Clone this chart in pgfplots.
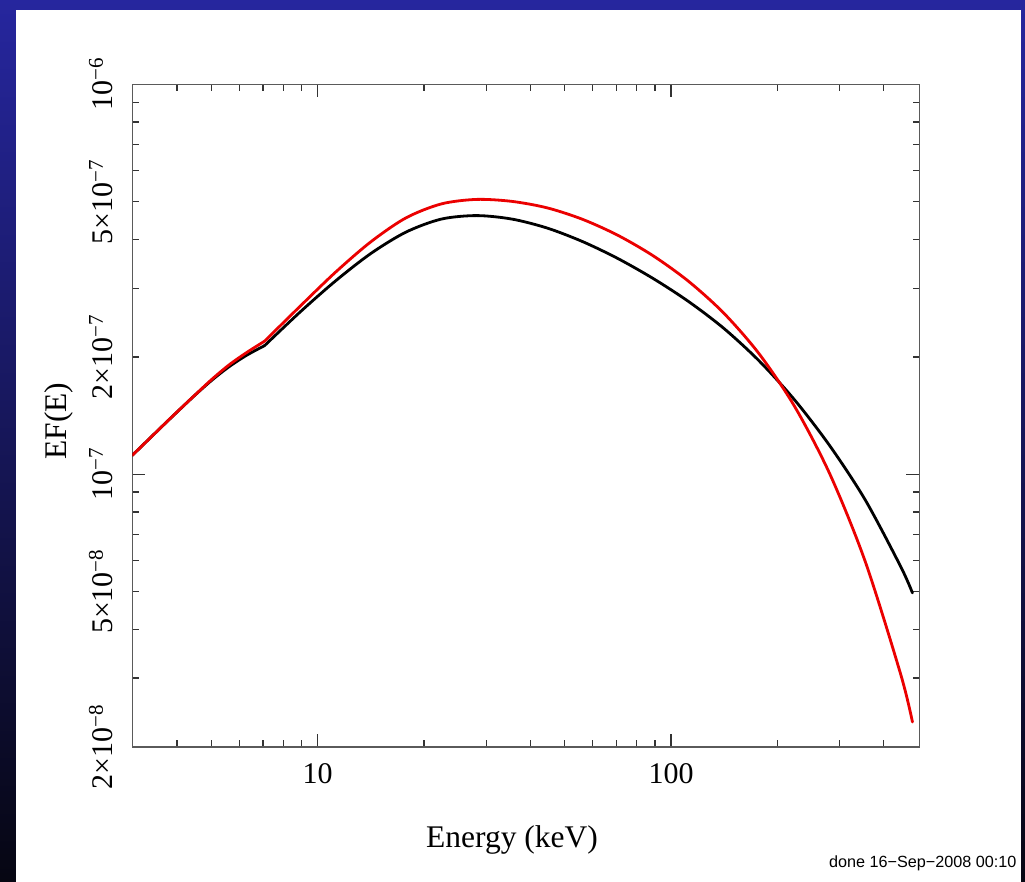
\documentclass[border=0pt]{standalone}
\usepackage{fontspec}
\setmainfont{Liberation Serif}
\newfontfamily\stampfont{Liberation Sans}
\usepackage{pgfplots}
\pgfplotsset{compat=1.18}
\usetikzlibrary{shadings}

\definecolor{frametop}{RGB}{38,38,158}
\definecolor{framemid}{RGB}{28,28,105}
\definecolor{framebot}{RGB}{6,6,18}
\definecolor{axisgray}{RGB}{90,90,90}
\definecolor{modelred}{RGB}{235,0,0}

\newcommand{\ticksize}{\fontsize{30}{32}\selectfont}
\newcommand{\labelsize}{\fontsize{31.5}{34}\selectfont}

\begin{document}
\begin{tikzpicture}[x=1pt,y=1pt]
% slide frame behind the white page
\shade[top color=frametop, middle color=framemid, bottom color=framebot] (0,0) rectangle (1025,882);
\fill[white] (16,0) rectangle (1021,872);

\begin{axis}[
  at={(132.3pt,135.3pt)}, anchor=south west,
  scale only axis, width=787pt, height=662.4pt,
  xmode=log, ymode=log,
  xmin=2.99, xmax=504, ymin=2e-8, ymax=1e-6,
  xtick={10,100}, xticklabels={10,100},
  minor xtick={3,4,5,6,7,8,9,20,30,40,50,60,70,80,90,200,300,400},
  ytick={1e-7,1e-6},
  yticklabels={10\textsuperscript{−7},10\textsuperscript{−6}},
  minor ytick={2e-8,3e-8,4e-8,5e-8,6e-8,7e-8,8e-8,9e-8,2e-7,3e-7,4e-7,5e-7,6e-7,7e-7,8e-7,9e-7},
  extra y ticks={2e-8,5e-8,2e-7,5e-7},
  extra y tick labels={2×10\textsuperscript{−8},5×10\textsuperscript{−8},2×10\textsuperscript{−7},5×10\textsuperscript{−7}},
  extra y tick style={major tick length=0pt},
  tick align=inside,
  major tick length=13pt, minor tick length=6.5pt,
  axis line style={axisgray, line width=1.6pt},
  tick style={black!80, line width=1.3pt},
  xticklabel style={font=\ticksize, anchor=base, yshift=-36.3pt},
  yticklabel style={font=\ticksize, xshift=-20.3pt, rotate=90, anchor=base},
  xlabel={Energy (keV)},
  xlabel style={at={(axis description cs:0.4825,-0.1514)}, anchor=base, font=\labelsize},
  ylabel={EF(E)},
  ylabel style={at={(axis description cs:-0.083,0.4917)}, anchor=base, font=\labelsize},
  every axis plot/.append style={line width=2.8pt, smooth, line join=round, line cap=round},
]

% model 1 (black): below and above the iron edge near 7 keV
\addplot[black] coordinates {
  (2.987,1.117e-7) (3.162,1.1745e-7) (3.548,1.300e-7) (3.981,1.437e-7)
  (4.467,1.586e-7) (5.012,1.740e-7) (5.623,1.888e-7) (6.310,2.021e-7)
  (7.079,2.137e-7)
};
\addplot[black] coordinates {
  (7.079,2.137e-7) (8.913,2.604e-7) (11.22,3.128e-7) (14.13,3.680e-7)
  (17.78,4.178e-7) (22.39,4.512e-7) (28.18,4.606e-7) (35.48,4.512e-7)
  (44.67,4.278e-7) (56.23,3.950e-7) (70.79,3.573e-7) (89.13,3.174e-7)
  (112.2,2.771e-7) (141.3,2.363e-7) (177.8,1.950e-7) (223.9,1.549e-7)
  (281.8,1.180e-7) (354.8,8.576e-8) (446.7,5.789e-8) (482.0,4.960e-8)
};

% model 2 (red)
\addplot[modelred] coordinates {
  (2.987,1.117e-7) (3.162,1.1745e-7) (3.548,1.300e-7) (3.981,1.438e-7)
  (4.467,1.587e-7) (5.012,1.749e-7) (5.623,1.909e-7) (6.310,2.054e-7)
  (7.079,2.194e-7)
};
\addplot[modelred] coordinates {
  (7.079,2.194e-7) (8.913,2.694e-7) (11.22,3.293e-7) (14.13,3.943e-7)
  (17.78,4.544e-7) (22.39,4.935e-7) (28.18,5.068e-7) (35.48,5.009e-7)
  (44.67,4.820e-7) (56.23,4.504e-7) (70.79,4.098e-7) (89.13,3.630e-7)
  (112.2,3.122e-7) (141.3,2.584e-7) (177.8,2.032e-7) (223.9,1.490e-7)
  (281.8,9.982e-8) (354.8,5.953e-8) (446.7,3.062e-8) (482.0,2.314e-8)
};
\end{axis}

\node[anchor=base east, inner sep=0pt, font=\stampfont\fontsize{16.2}{18}\selectfont]
  at (1016.7,14) {done 16−Sep−2008 00:10};
\end{tikzpicture}
\end{document}
